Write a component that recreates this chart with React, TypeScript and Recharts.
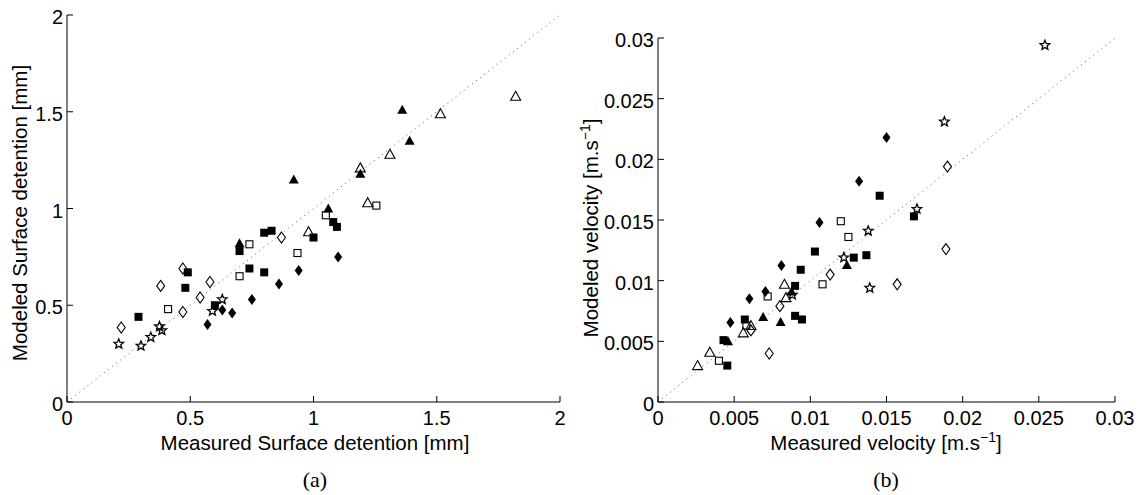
import { ScatterChart, Scatter, XAxis, YAxis, ReferenceLine } from "recharts";

type Pair = [number, number];

/* ── (a) surface detention [mm] ── */
const A_TICKS = [0, 0.5, 1, 1.5, 2];
const A_TICK_LABELS = ["0", "0.5", "1", "1.5", "2"];

const aFilledTriangle: Pair[] = [[0.7, 0.82], [0.92, 1.15], [1.06, 1.0], [1.19, 1.18], [1.36, 1.51], [1.39, 1.35]];
const aOpenTriangle: Pair[] = [[0.98, 0.88], [1.19, 1.21], [1.22, 1.03], [1.31, 1.28], [1.515, 1.49], [1.82, 1.58]];
const aOpenSquare: Pair[] = [[0.41, 0.48], [0.7, 0.65], [0.74, 0.815], [0.935, 0.77], [1.05, 0.965], [1.255, 1.015]];
const aFilledSquare: Pair[] = [
  [0.29, 0.44], [0.48, 0.59], [0.49, 0.67], [0.6, 0.5], [0.7, 0.78], [0.74, 0.69],
  [0.8, 0.67], [0.8, 0.875], [0.83, 0.885], [1.0, 0.85], [1.08, 0.93], [1.095, 0.905],
];
const aFilledDiamond: Pair[] = [[0.57, 0.4], [0.63, 0.475], [0.67, 0.46], [0.75, 0.53], [0.86, 0.61], [0.94, 0.68], [1.1, 0.75]];
const aOpenDiamond: Pair[] = [[0.22, 0.385], [0.38, 0.6], [0.47, 0.465], [0.47, 0.69], [0.54, 0.54], [0.58, 0.62], [0.87, 0.85]];
const aStar: Pair[] = [[0.21, 0.3], [0.3, 0.29], [0.34, 0.335], [0.375, 0.39], [0.385, 0.37], [0.59, 0.47], [0.63, 0.53]];

/* ── (b) velocity [m/s] ── */
const B_TICKS = [0, 0.005, 0.01, 0.015, 0.02, 0.025, 0.03];
const B_TICK_LABELS = ["0", "0.005", "0.01", "0.015", "0.02", "0.025", "0.03"];

const bStar: Pair[] = [[0.00882, 0.00883], [0.0122, 0.0119], [0.0138, 0.0141], [0.0139, 0.0094], [0.017, 0.0159], [0.0188, 0.0231], [0.0254, 0.0294]];
const bFilledDiamond: Pair[] = [[0.00475, 0.00655], [0.006, 0.0085], [0.00705, 0.0091], [0.0081, 0.01125], [0.0106, 0.0148], [0.0132, 0.0182], [0.015, 0.0218]];
const bFilledSquare: Pair[] = [
  [0.0043, 0.0051], [0.00455, 0.003], [0.0057, 0.0068], [0.009, 0.0071], [0.00945, 0.0068], [0.009, 0.00957],
  [0.00937, 0.0109], [0.0103, 0.0124], [0.01285, 0.0119], [0.01368, 0.0121], [0.01455, 0.017], [0.0168, 0.0153],
];
const bOpenSquare: Pair[] = [[0.004, 0.0034], [0.0058, 0.0063], [0.0072, 0.0087], [0.0108, 0.0097], [0.0125, 0.0136], [0.012, 0.0149]];
const bFilledTriangle: Pair[] = [[0.0046, 0.005], [0.0069, 0.007], [0.00805, 0.0066], [0.00876, 0.0091], [0.0124, 0.0113]];
const bOpenTriangle: Pair[] = [[0.0026, 0.003], [0.0034, 0.0041], [0.0056, 0.0057], [0.0061, 0.0063], [0.0084, 0.0086], [0.0083, 0.0097]];
const bOpenDiamond: Pair[] = [[0.0061, 0.0059], [0.0073, 0.004], [0.008, 0.0079], [0.0113, 0.0105], [0.0157, 0.0097], [0.0189, 0.0126], [0.019, 0.0194]];

const FONT = "'Liberation Sans', Arial, sans-serif";
const SERIF = "'Liberation Serif', 'Times New Roman', serif";
const TICK_SIZE = 20;
const LABEL_SIZE = 20.5;

type Kind = "fsq" | "osq" | "fdi" | "odi" | "ftr" | "otr" | "star";

const toRows = (pairs: Pair[]) => pairs.map(([x, y]) => ({ x, y }));

function starPath(cx: number, cy: number, ro: number, ri: number) {
  const pts: string[] = [];
  for (let i = 0; i < 10; i++) {
    const r = i % 2 === 0 ? ro : ri;
    const a = -Math.PI / 2 + (i * Math.PI) / 5;
    pts.push(`${(cx + r * Math.cos(a)).toFixed(2)},${(cy + r * Math.sin(a)).toFixed(2)}`);
  }
  return `M${pts.join("L")}Z`;
}

function Marker({ cx, cy, kind }: { cx?: number; cy?: number; kind: Kind }) {
  if (cx == null || cy == null) return null;
  const open = { fill: "none", stroke: "#000", strokeWidth: 1.1 };
  switch (kind) {
    case "fsq":
      return <rect x={cx - 4} y={cy - 4} width={8} height={8} fill="#000" />;
    case "osq":
      return <rect x={cx - 3.5} y={cy - 3.5} width={7} height={7} {...open} />;
    case "fdi":
      return <path d={`M${cx},${cy - 5.5}L${cx + 4},${cy}L${cx},${cy + 5.5}L${cx - 4},${cy}Z`} fill="#000" />;
    case "odi":
      return <path d={`M${cx},${cy - 5.5}L${cx + 4},${cy}L${cx},${cy + 5.5}L${cx - 4},${cy}Z`} {...open} />;
    case "ftr":
      return <path d={`M${cx},${cy - 5}L${cx + 5},${cy + 4}L${cx - 5},${cy + 4}Z`} fill="#000" />;
    case "otr":
      return <path d={`M${cx},${cy - 5}L${cx + 5},${cy + 4}L${cx - 5},${cy + 4}Z`} {...open} />;
    default:
      return <path d={starPath(cx, cy, 5, 2.2)} fill="none" stroke="#000" strokeWidth={1.3} />;
  }
}

function XTick(props: any) {
  const { x, y, index, labels } = props;
  return (
    <g>
      <line x1={x} x2={x} y1={y} y2={y - 6} stroke="#000" />
      <text x={x} y={y + 23} textAnchor="middle" fontSize={TICK_SIZE} fontFamily={FONT} fill="#000">
        {labels[index]}
      </text>
    </g>
  );
}

function YTick(props: any) {
  const { x, y, index, labels } = props;
  return (
    <g>
      <line x1={x} x2={x + 6} y1={y} y2={y} stroke="#000" />
      <text x={x - 4} y={y + 9} textAnchor="end" fontSize={TICK_SIZE} fontFamily={FONT} fill="#000">
        {labels[index]}
      </text>
    </g>
  );
}

interface PanelProps {
  max: number;
  ticks: number[];
  labels: string[];
  series: [Pair[], Kind][];
  width: number;
  margin: { top: number; right: number; bottom: number; left: number };
}

function Panel({ max, ticks, labels, series, width, margin }: PanelProps) {
  return (
    <ScatterChart width={width} height={495} margin={margin}>
      <XAxis
        type="number"
        dataKey="x"
        domain={[0, max]}
        ticks={ticks}
        height={30}
        tickSize={0}
        tickMargin={0}
        tickLine={false}
        axisLine={{ stroke: "#000" }}
        tick={<XTick labels={labels} />}
        interval={0}
      />
      <YAxis
        type="number"
        dataKey="y"
        domain={[0, max]}
        ticks={ticks}
        width={60}
        tickSize={0}
        tickMargin={0}
        tickLine={false}
        axisLine={{ stroke: "#000" }}
        tick={<YTick labels={labels} />}
        interval={0}
      />
      <ReferenceLine
        segment={[{ x: 0, y: 0 }, { x: max, y: max }]}
        stroke="#777"
        strokeWidth={1}
        strokeDasharray="1.2 4"
      />
      {series.map(([pairs, kind], i) => (
        <Scatter
          key={i}
          data={toRows(pairs)}
          isAnimationActive={false}
          shape={(p: any) => <Marker cx={p.cx} cy={p.cy} kind={kind} />}
        />
      ))}
    </ScatterChart>
  );
}

export default function App() {
  const labelStyle = { fontFamily: FONT, fontSize: LABEL_SIZE, fill: "#000" };
  return (
    <div style={{ position: "absolute", left: 0, top: 0, width: 1140, height: 495, background: "#fff" }}>
      <div style={{ position: "absolute", left: 0, top: 0 }}>
        <Panel
          max={2}
          ticks={A_TICKS}
          labels={A_TICK_LABELS}
          width={580}
          margin={{ top: 15, right: 20, bottom: 63, left: 7 }}
          series={[
            [aOpenDiamond, "odi"],
            [aStar, "star"],
            [aOpenSquare, "osq"],
            [aFilledSquare, "fsq"],
            [aFilledDiamond, "fdi"],
            [aOpenTriangle, "otr"],
            [aFilledTriangle, "ftr"],
          ]}
        />
      </div>
      <div style={{ position: "absolute", left: 580, top: 0 }}>
        <Panel
          max={0.03}
          ticks={B_TICKS}
          labels={B_TICK_LABELS}
          width={560}
          margin={{ top: 38, right: 25, bottom: 63, left: 18 }}
          series={[
            [bOpenDiamond, "odi"],
            [bOpenTriangle, "otr"],
            [bOpenSquare, "osq"],
            [bFilledSquare, "fsq"],
            [bFilledTriangle, "ftr"],
            [bFilledDiamond, "fdi"],
            [bStar, "star"],
          ]}
        />
      </div>
      <svg width={1140} height={495} style={{ position: "absolute", left: 0, top: 0, pointerEvents: "none" }}>
        <text x={315} y={450} textAnchor="middle" {...labelStyle}>Measured Surface detention [mm]</text>
        <text transform="translate(27,213) rotate(-90)" textAnchor="middle" {...labelStyle}>
          Modeled Surface detention [mm]
        </text>
        <text x={886} y={450} textAnchor="middle" {...labelStyle}>
          Measured velocity [m.s<tspan dy={-8} fontSize={14}>−1</tspan><tspan dy={8}>]</tspan>
        </text>
        <text transform="translate(598,228) rotate(-90)" textAnchor="middle" {...labelStyle}>
          Modeled velocity [m.s<tspan dy={-8} fontSize={14}>−1</tspan><tspan dy={8}>]</tspan>
        </text>
        <text x={315} y={487} textAnchor="middle" fontFamily={SERIF} fontSize={22}>(a)</text>
        <text x={886} y={487} textAnchor="middle" fontFamily={SERIF} fontSize={22}>(b)</text>
      </svg>
    </div>
  );
}
